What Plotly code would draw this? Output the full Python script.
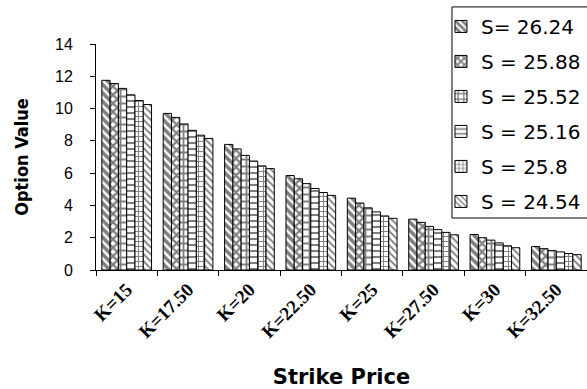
import plotly.graph_objects as go

# Strike prices on the category axis
strikes = ["K=15", "K=17.50", "K=20", "K=22.50", "K=25", "K=27.50", "K=30", "K=32.50"]

# Option values for each underlying price S
s_names = ["S= 26.24", "S = 25.88", "S = 25.52", "S = 25.16", "S = 25.8", "S = 24.54"]
v_2624 = [11.75, 9.70, 7.78, 5.85, 4.45, 3.15, 2.20, 1.45]
v_2588 = [11.55, 9.45, 7.50, 5.65, 4.15, 2.95, 2.00, 1.32]
v_2552 = [11.25, 9.05, 7.10, 5.35, 3.85, 2.70, 1.85, 1.20]
v_2516 = [10.85, 8.65, 6.75, 5.05, 3.60, 2.50, 1.68, 1.12]
v_2580 = [10.50, 8.35, 6.45, 4.80, 3.35, 2.33, 1.50, 1.02]
v_2454 = [10.25, 8.15, 6.28, 4.62, 3.20, 2.18, 1.38, 0.95]

series = [v_2624, v_2588, v_2552, v_2516, v_2580, v_2454]
patterns = [
    dict(shape="\\", size=6, solidity=0.6),
    dict(shape="x", size=6, solidity=0.6),
    dict(shape="+", size=7, solidity=0.45),
    dict(shape="-", size=6, solidity=0.35),
    dict(shape="+", size=5, solidity=0.35),
    dict(shape="\\", size=5, solidity=0.35),
]

fig = go.Figure()
for i, (name, vals) in enumerate(zip(s_names, series)):
    fig.add_trace(go.Bar(
        x=strikes, y=vals, name=name, legendgroup=f"g{i}",
        marker=dict(color="white", line=dict(color="black", width=1),
                    pattern=dict(fgcolor="black", bgcolor="white", **patterns[i])),
    ))

# legend frame, running off the right edge
fig.add_shape(type="rect", xref="paper", yref="paper",
              x0=0.725, x1=1.05, y0=0.230, y1=1.164,
              line=dict(color="black", width=1), fillcolor="white", layer="above")

fig.update_layout(
    width=587, height=389,
    margin=dict(l=96, r=0, t=44, b=119, autoexpand=False),
    paper_bgcolor="white", plot_bgcolor="white",
    barmode="group", bargap=0.19, bargroupgap=0.0,
    font=dict(family="Liberation Sans", color="black"),
    showlegend=True,
    legend=dict(
        x=0.7026, xanchor="left", y=1.164, yanchor="top",
        borderwidth=0, bgcolor="rgba(0,0,0,0)",
        font=dict(family="DejaVu Sans", size=20, color="black"),
        traceorder="grouped", tracegroupgap=6, itemwidth=30, maxheight=320,
    ),
    xaxis=dict(
        range=[-0.5, 7.5], showline=True, linecolor="black", linewidth=1,
        ticks="outside", tickson="boundaries", ticklen=5, tickcolor="black",
        tickangle=-45, ticklabelstandoff=0,
        tickfont=dict(family="Liberation Serif", size=19, weight="bold"),
        title=dict(text="Strike Price", font=dict(family="DejaVu Sans", size=21, weight="bold"),
                   standoff=28),
        showgrid=False,
    ),
    yaxis=dict(
        range=[0, 14], dtick=2, showline=True, linecolor="black", linewidth=1,
        ticks="outside", ticklen=5, tickcolor="black", ticklabelstandoff=14,
        tickfont=dict(family="Liberation Sans", size=16),
        title=dict(text="Option Value",
                   font=dict(family="DejaVu Sans Condensed", size=18, weight="bold"),
                   standoff=21),
        showgrid=False, zeroline=False,
    ),
)

fig.write_html("out.html")
